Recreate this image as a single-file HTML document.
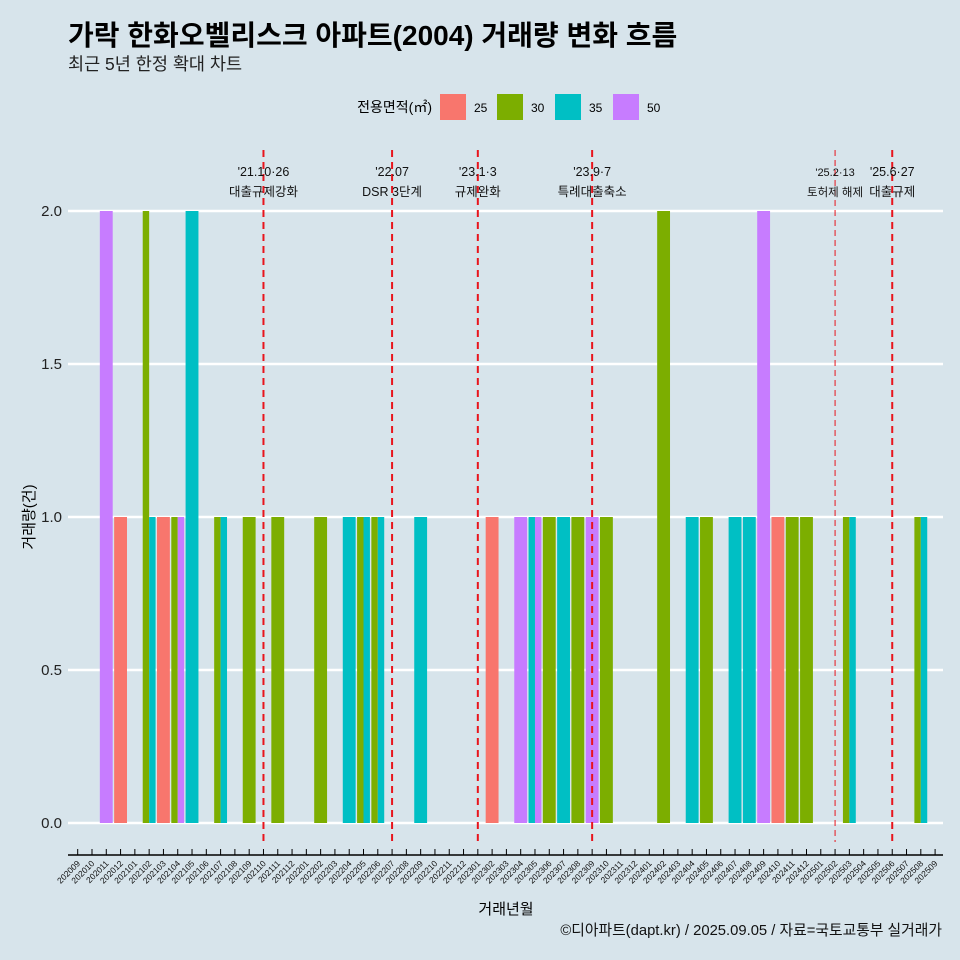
<!DOCTYPE html>
<html><head><meta charset="utf-8"><style>
body{margin:0;background:#d7e4eb;}
svg{display:block;font-family:"Liberation Sans","Noto Sans CJK KR",sans-serif;}
</style></head><body>
<svg id="c" width="960" height="960" viewBox="0 0 960 960">
<rect width="960" height="960" fill="#d7e4eb"/>
<text x="68" y="45" font-size="28" font-weight="bold" fill="#000">가락 한화오벨리스크 아파트(2004) 거래량 변화 흐름</text>
<text x="68" y="70" font-size="17.5" fill="#222">최근 5년 한정 확대 차트</text>
<g id="legend">
<text x="432" y="112" font-size="14" text-anchor="end" fill="#000">전용면적(㎡)</text>
</g>
<g id="grid"></g><g id="bars"></g><g id="vlines"></g><g id="xaxis"></g><g id="yaxis"></g>
<text x="506" y="914" font-size="15" text-anchor="middle" fill="#000">거래년월</text>
<text transform="translate(34,517) rotate(-90)" font-size="15" text-anchor="middle" fill="#000">거래량(건)</text>
<text x="942" y="935" font-size="14.8" text-anchor="end" fill="#111">©디아파트(dapt.kr) / 2025.09.05 / 자료=국토교통부 실거래가</text>
</svg>
<script>
const sizes=["25","30","35","50"];
const colors=["#f8766d","#7cae00","#00bfc4","#c77cff"];
const records=[
["202011","50",2],["202012","25",1],["202102","30",2],["202102","35",1],["202103","25",1],
["202104","30",1],["202104","50",1],["202105","35",2],["202107","30",1],["202107","35",1],
["202109","30",1],["202111","30",1],["202202","30",1],["202204","35",1],["202205","30",1],
["202205","35",1],["202206","30",1],["202206","35",1],["202209","35",1],["202302","25",1],
["202304","50",1],["202305","35",1],["202305","50",1],["202306","30",1],["202307","35",1],
["202308","30",1],["202309","50",1],["202310","30",1],["202402","30",2],["202404","35",1],
["202405","30",1],["202407","35",1],["202408","35",1],["202409","50",2],["202410","25",1],
["202411","30",1],["202412","30",1],["202503","30",1],["202503","35",1],["202508","30",1],["202508","35",1]];
const yTicks=[0,0.5,1,1.5,2];
const yTickLabels=["0.0","0.5","1.0","1.5","2.0"];
const events=[["202110","'21.10·26","대출규제강화",false],["202207","'22.07","DSR 3단계",false],["202301","'23.1·3","규제완화",false],["202309","'23.9·7","특례대출축소",false],["202502","'25.2·13","토허제 해제",true],["202506","'25.6·27","대출규제",false]];
const months=[];for(let y=2020,m=9;y<2025||(y==2025&&m<=9);){months.push(y+String(m).padStart(2,'0'));m++;if(m>12){m=1;y++;}}
const NS="http://www.w3.org/2000/svg";
function mk(t,a,p){const e=document.createElementNS(NS,t);for(const k in a)e.setAttribute(k,a[k]);p.appendChild(e);return e;}
const x=i=>77.7+i*14.29, y=v=>823-v*306;
const xi=m=>months.indexOf(m);
const G=id=>document.getElementById(id);
const lx=[440,497,555,613];
sizes.forEach((s,i)=>{const r=mk('rect',{x:lx[i],y:94,width:26,height:26,fill:colors[i]},G('legend'));

const t=mk('text',{x:lx[i]+34,y:112,'font-size':12,fill:'#000'},G('legend'));t.textContent=s;
});
yTicks.forEach((v,i)=>{const l=mk('line',{x1:68,x2:943,y1:y(v),y2:y(v),stroke:'#fff','stroke-width':2.5},G('grid'));

const t=mk('text',{x:62,y:y(v)+5,'font-size':15,'text-anchor':'end',fill:'#222'},G('yaxis'));t.textContent=yTickLabels[i];
});
const groups={};records.forEach(r=>{(groups[r[0]]=groups[r[0]]||[]).push(r);});
const W=12.86;
Object.keys(groups).forEach(m=>{const g=groups[m].sort((a,b)=>sizes.indexOf(a[1])-sizes.indexOf(b[1]));const w=W/g.length;
g.forEach((r,j)=>{const b=mk('rect',{x:x(xi(m))-W/2+j*w,y:y(r[2]),width:w,height:y(0)-y(r[2]),fill:colors[sizes.indexOf(r[1])]},G('bars'));
});});
events.forEach(e=>{const cx=x(xi(e[0]));
const l=mk('line',{x1:cx,x2:cx,y1:150,y2:842,stroke:'#e8141c','stroke-width':e[3]?1:2,'stroke-dasharray':e[3]?'6,4':'7,5'},G('vlines'));

const t1=mk('text',{x:cx,y:176,'font-size':e[3]?11:12.5,'text-anchor':'middle',fill:'#111'},G('vlines'));t1.textContent=e[1];

const t2=mk('text',{x:cx,y:196,'font-size':e[3]?11.5:12.5,'text-anchor':'middle',fill:'#111'},G('vlines'));t2.textContent=e[2];
});
const ax=mk('line',{x1:68,x2:943,y1:855,y2:855,stroke:'#000','stroke-width':1.5},G('xaxis'));

months.forEach((m,i)=>{const cx=x(i);mk('line',{x1:cx,x2:cx,y1:849,y2:855,stroke:'#000','stroke-width':1},G('xaxis'));
const t=mk('text',{transform:`translate(${cx+3},864) rotate(-45)`,'font-size':8.5,'text-anchor':'end',fill:'#111'},G('xaxis'));t.textContent=m;
});
</script>
</body></html>
